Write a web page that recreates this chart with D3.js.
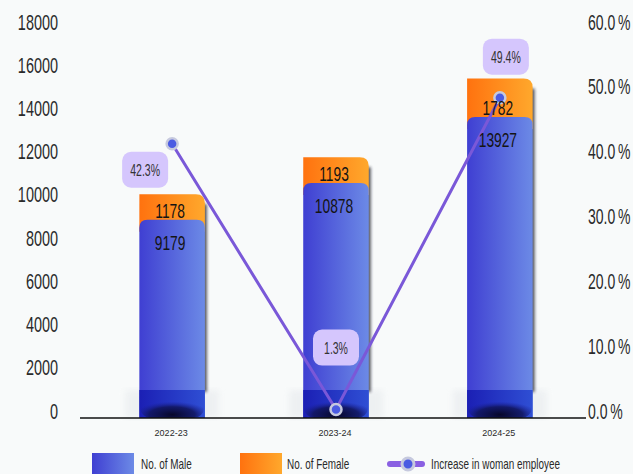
<!DOCTYPE html>
<html>
<head>
<meta charset="utf-8">
<script src="https://cdn.jsdelivr.net/npm/d3@7/dist/d3.min.js"></script>
<style>
  html, body { margin: 0; padding: 0; background: #f8fafa; }
  svg { display: block; }
</style>
</head>
<body>
<svg id="chart" width="633" height="474"></svg>
<script>
// Workforce by year: stacked male/female headcount with growth in women employees
const categories = ["2022-23", "2023-24", "2024-25"];
const maleCounts = [9179, 10878, 13927];
const femaleCounts = [1178, 1193, 1782];
const womanIncrease = [42.3, 1.3, 49.4];
const countTicks = [0, 2000, 4000, 6000, 8000, 10000, 12000, 14000, 16000, 18000];
const percentTicks = [0, 10, 20, 30, 40, 50, 60];
const legendLabels = ["No. of Male", "No. of Female", "Increase in woman employee"];

const FONT = '"Liberation Sans Narrow", "Liberation Sans", Arial, sans-serif';
const svg = d3.select("#chart");

// horizontal squeeze so digits come out condensed whichever face is picked
const probe = svg.append("text").style("font", "100px " + FONT).text("0000");
const digitEm = probe.node().getComputedTextLength() / 400;
probe.remove();
const SX = 0.365 / digitEm;

function squeeze(sel, sx) {
  sel.each(function () {
    const t = d3.select(this);
    const x = +t.attr("x") || 0, y = +t.attr("y") || 0;
    t.attr("x", 0).attr("y", 0).attr("transform", `translate(${x},${y}) scale(${sx},1)`);
  });
}

const x = d3.scaleBand().domain(categories).range([82, 590]).paddingInner(0.6).paddingOuter(0.35);
const y = d3.scaleLinear().domain([0, 18000]).range([418, 29]);
const y2 = d3.scaleLinear().domain([0, 60]).range([418, 29]);
const bw = x.bandwidth();

const defs = svg.append("defs");
const maleGrad = defs.append("linearGradient").attr("id", "maleGrad");
maleGrad.append("stop").attr("offset", "0%").attr("stop-color", "#3f3fd2");
maleGrad.append("stop").attr("offset", "100%").attr("stop-color", "#6c8ae6");
const femaleGrad = defs.append("linearGradient").attr("id", "femaleGrad");
femaleGrad.append("stop").attr("offset", "0%").attr("stop-color", "#ff720f");
femaleGrad.append("stop").attr("offset", "100%").attr("stop-color", "#ffa82c");
const baseGrad = defs.append("linearGradient").attr("id", "baseGrad");
baseGrad.append("stop").attr("offset", "0%").attr("stop-color", "#1b1fb4");
baseGrad.append("stop").attr("offset", "100%").attr("stop-color", "#2f4fd4");
const pitGrad = defs.append("radialGradient").attr("id", "pitGrad").attr("cx", "50%").attr("cy", "85%").attr("r", "60%");
pitGrad.append("stop").attr("offset", "0%").attr("stop-color", "#07072a").attr("stop-opacity", 1);
pitGrad.append("stop").attr("offset", "60%").attr("stop-color", "#10145a").attr("stop-opacity", 0.85);
pitGrad.append("stop").attr("offset", "100%").attr("stop-color", "#1b22a0").attr("stop-opacity", 0);
defs.append("filter").attr("id", "soft").attr("x", "-50%").attr("width", "200%")
  .append("feGaussianBlur").attr("stdDeviation", 1.6);
defs.append("filter").attr("id", "haze").attr("x", "-20%").attr("width", "140%")
  .append("feGaussianBlur").attr("stdDeviation", 3);

// path with selectable rounded top corners
function topRounded(x0, yTop, w, yBot, rl, rr) {
  return `M${x0},${yBot} L${x0},${yTop + rl} Q${x0},${yTop} ${x0 + rl},${yTop} ` +
         `L${x0 + w - rr},${yTop} Q${x0 + w},${yTop} ${x0 + w},${yTop + rr} L${x0 + w},${yBot} Z`;
}

const rows = categories.map((c, i) => ({
  cat: c, male: maleCounts[i], female: femaleCounts[i], total: maleCounts[i] + femaleCounts[i]
}));

// Left axis (counts)
const leftAxis = svg.append("g").attr("transform", "translate(80,0)")
  .call(d3.axisLeft(y).tickValues(countTicks).tickSize(0).tickPadding(22).tickFormat(d3.format("d")));
leftAxis.select(".domain").remove();
leftAxis.selectAll("text").attr("dy", "0em").attr("fill", "#2a2a2a")
  .style("font", "22px " + FONT);
squeeze(leftAxis.selectAll("text"), SX);

// Right axis (percent)
const rightAxis = svg.append("g").attr("transform", "translate(586,0)")
  .call(d3.axisRight(y2).tickValues(percentTicks).tickSize(0).tickPadding(2)
    .tickFormat(d => d3.format(".1f")(d) + "\u2009%"));
rightAxis.select(".domain").remove();
rightAxis.selectAll("text").attr("dy", "0em").attr("fill", "#2a2a2a")
  .style("font", "22px " + FONT);
squeeze(rightAxis.selectAll("text"), SX * 0.97);

// Bars
const bars = svg.append("g").selectAll("g").data(rows).join("g");

// faint pale pad under each bar foot
bars.append("rect")
  .attr("x", d => x(d.cat) - 14).attr("width", bw + 28)
  .attr("y", y(0) - 28).attr("height", 28)
  .attr("fill", "#e9ecef").attr("opacity", 0.7).attr("filter", "url(#haze)");

// dark edge shadow on the right side
bars.append("rect")
  .attr("x", d => x(d.cat) + bw - 3).attr("width", 5)
  .attr("y", d => y(d.total) + 10).attr("height", d => y(0) - y(d.total) - 36)
  .attr("fill", "#1d1d2a").attr("opacity", 0.75).attr("filter", "url(#soft)");

bars.append("path")
  .attr("d", d => topRounded(x(d.cat), y(d.total), bw, y(d.male) + 12, 0, 9))
  .attr("fill", "url(#femaleGrad)");

bars.append("path")
  .attr("d", d => topRounded(x(d.cat), y(d.male), bw, y(0), 8, 8))
  .attr("fill", "url(#maleGrad)");

// darker foot band with a shaded pit at the base
bars.append("rect")
  .attr("x", d => x(d.cat)).attr("width", bw)
  .attr("y", y(0) - 28).attr("height", 28)
  .attr("fill", "url(#baseGrad)");
bars.append("rect")
  .attr("x", d => x(d.cat) + 1).attr("width", bw - 2)
  .attr("y", y(0) - 22).attr("height", 22).attr("rx", 10)
  .attr("fill", "url(#pitGrad)");

// baseline
svg.append("line").attr("x1", 80).attr("x2", 586).attr("y1", y(0)).attr("y2", y(0))
  .attr("stroke", "#111").attr("stroke-width", 1.5);

// category labels
svg.append("g").selectAll("text").data(categories).join("text")
  .attr("x", d => x(d) + bw / 2 - 1).attr("y", 436)
  .attr("text-anchor", "middle").attr("fill", "#2a2a2a")
  .style("font", "9px 'Liberation Sans', Arial, sans-serif")
  .text(d => d);

// Increase line
const pts = categories.map((c, i) => ({ cat: c, v: womanIncrease[i] }));
const line = d3.line().x(d => x(d.cat) + bw / 2).y(d => y2(d.v));
svg.append("path").datum(pts).attr("d", line)
  .attr("fill", "none").attr("stroke", "#7a58d8").attr("stroke-width", 3);

svg.append("g").selectAll("circle").data(pts).join("circle")
  .attr("cx", d => x(d.cat) + bw / 2).attr("cy", d => y2(d.v)).attr("r", 5.5)
  .attr("fill", "#4b5be2").attr("stroke", "#c6c9de").attr("stroke-width", 2.5);

// value labels inside the bars
const valueLabels = svg.append("g").selectAll("g").data(rows).join("g");
valueLabels.append("text")
  .attr("x", d => x(d.cat) + bw / 2 - 2)
  .attr("y", d => y(d.male) - 2)
  .attr("text-anchor", "middle").attr("fill", "#141414")
  .style("font", "21px " + FONT)
  .text(d => d.female);
valueLabels.append("text")
  .attr("x", d => x(d.cat) + bw / 2 - 2)
  .attr("y", d => y(d.male) + 30)
  .attr("text-anchor", "middle").attr("fill", "#141414")
  .style("font", "21px " + FONT)
  .text(d => d.male);
squeeze(valueLabels.selectAll("text"), SX);

// percentage bubbles, placed around each point
const bubbleOffsets = [[-27, 26], [0, -62], [6, -41]];
const bubbles = svg.append("g").selectAll("g").data(pts).join("g")
  .attr("transform", (d, i) => `translate(${x(d.cat) + bw / 2 + bubbleOffsets[i][0]},${y2(d.v) + bubbleOffsets[i][1]})`);
bubbles.append("rect").attr("x", -23).attr("y", -18).attr("width", 46).attr("height", 36).attr("rx", 9)
  .attr("fill", "#d5c6fd");
bubbles.append("text").attr("x", 0).attr("y", 6).attr("text-anchor", "middle")
  .attr("fill", "#333").style("font", "16px " + FONT)
  .text(d => d3.format(".1f")(d.v) + "%");
squeeze(bubbles.selectAll("text"), SX);

// Legend
const legend = svg.append("g");
legend.append("rect").attr("x", 92).attr("y", 453).attr("width", 42).attr("height", 21).attr("fill", "url(#maleGrad)");
legend.append("rect").attr("x", 240).attr("y", 453).attr("width", 42).attr("height", 21).attr("fill", "url(#femaleGrad)");
legend.append("line").attr("x1", 390).attr("x2", 422).attr("y1", 464).attr("y2", 464)
  .attr("stroke", "#8a60e2").attr("stroke-width", 6).attr("stroke-linecap", "round");
legend.append("circle").attr("cx", 408).attr("cy", 464).attr("r", 6)
  .attr("fill", "#4b5be2").attr("stroke", "#c6c9de").attr("stroke-width", 3);
legend.selectAll("text.lg").data(legendLabels).join("text").attr("class", "lg")
  .attr("x", (d, i) => [141, 287, 431][i]).attr("y", 469)
  .attr("fill", "#2a2a2a").style("font", "14px " + FONT)
  .text(d => d);
squeeze(legend.selectAll("text.lg"), SX * 1.08);
</script>
</body>
</html>
